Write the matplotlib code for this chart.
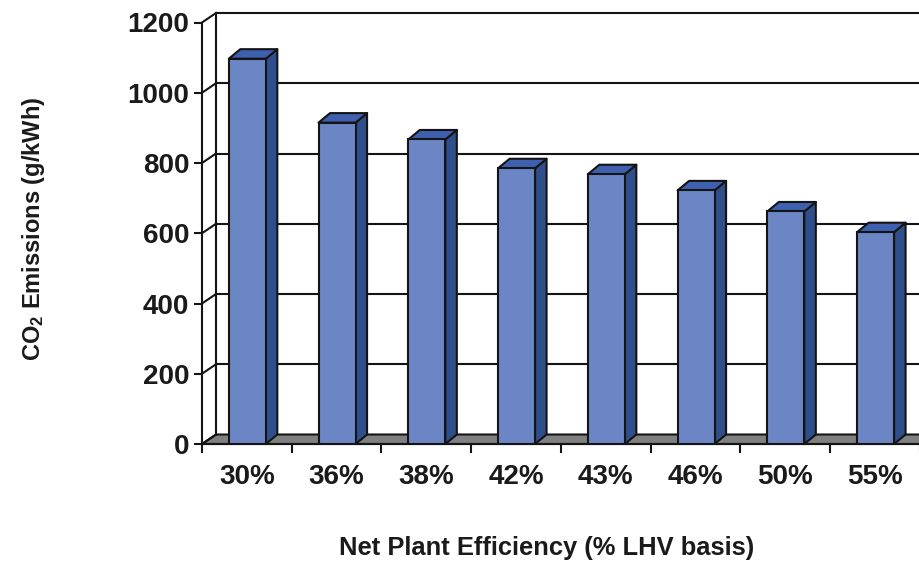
import matplotlib
matplotlib.use("Agg")
import matplotlib.pyplot as plt
from matplotlib.patches import Polygon
from matplotlib.ticker import FixedLocator, NullFormatter, FixedFormatter

categories = ["30%", "36%", "38%", "42%", "43%", "46%", "50%", "55%"]
emissions = [1097, 915, 867, 785, 768, 722, 662, 603]
y_ticks = [0, 200, 400, 600, 800, 1000, 1200]

plt.rcParams.update({
    "font.family": "Liberation Sans",
    "font.weight": "bold",
    "mathtext.fontset": "custom",
    "mathtext.bf": "Liberation Sans:bold",
    "mathtext.rm": "Liberation Sans:bold",
    "mathtext.default": "bf",
})

W, H = 920, 562
INK = "#141414"
LW = 1.5
fig = plt.figure(figsize=(W / 100, H / 100), dpi=100, facecolor="white")
ax = fig.add_axes([202 / W, (H - 444) / H, 718 / W, 421.5 / H])
n = len(categories)
ax.set_xlim(0, n)
ax.set_ylim(0, 1200)
for s in ("top", "right", "bottom"):
    ax.spines[s].set_visible(False)
ax.spines["left"].set_linewidth(LW)
ax.spines["left"].set_color(INK)
ax.patch.set_alpha(0)

# depth of the pseudo-3D box, in data units
wall_dx = 14 / (718 / n)
bar_dx = 11.5 / (718 / n)
depth_y = 9.5 / (421.5 / 1200)
bar_w = 37 / (718 / n)

# floor
ax.add_patch(Polygon([(0, 0), (wall_dx, depth_y), (n + 1, depth_y), (n + 1, 0)],
                     closed=True, fc="#808080", ec=INK, lw=LW, zorder=1, clip_on=False))
# back wall + grid
for v in y_ticks:
    ax.plot([0, wall_dx], [v, v + depth_y], color=INK, lw=LW, zorder=1.5, clip_on=False)
    if v > 0:
        ax.plot([wall_dx, n + 1], [v + depth_y] * 2, color=INK, lw=LW, zorder=1.5, clip_on=False)
ax.plot([wall_dx, wall_dx], [depth_y, 1200 + depth_y], color=INK, lw=LW, zorder=1.5, clip_on=False)
ax.plot([0, n + 1], [0, 0], color=INK, lw=LW, zorder=1.6, clip_on=False)

# bars
for i, v in enumerate(emissions):
    x0 = i + 0.5 - bar_w / 2 + 0.005
    x1 = x0 + bar_w
    ax.add_patch(Polygon([(x1, 0), (x1 + bar_dx, depth_y), (x1 + bar_dx, v + depth_y), (x1, v)],
                         closed=True, fc="#2F4F8C", ec=INK, lw=LW, joinstyle="round", zorder=3, clip_on=False))
    ax.add_patch(Polygon([(x0, v), (x0 + bar_dx, v + depth_y), (x1 + bar_dx, v + depth_y), (x1, v)],
                         closed=True, fc="#3F60AE", ec=INK, lw=LW, joinstyle="round", zorder=3, clip_on=False))
    ax.bar(x0, v, width=bar_w, align="edge", color="#6C85C5", edgecolor=INK, linewidth=LW, zorder=4)

ax.xaxis.set_major_locator(FixedLocator(list(range(n + 1))))
ax.xaxis.set_major_formatter(NullFormatter())
ax.xaxis.set_minor_locator(FixedLocator([i + 0.5 for i in range(n)]))
ax.xaxis.set_minor_formatter(FixedFormatter(categories))
ax.tick_params(axis="x", which="major", length=6.5, width=LW, color=INK)
ax.tick_params(axis="x", which="minor", length=0, pad=14.5, labelsize=20, labelcolor="#1a1a1a")
ax.set_yticks(y_ticks)
ax.tick_params(axis="y", length=6, width=LW, color=INK, pad=3, labelsize=20, labelcolor="#1a1a1a")

fig.text(547 / W, 1 - 548 / H, "Net Plant Efficiency (% LHV basis)", ha="center", va="center",
         fontsize=18.4, color="#1a1a1a")
fig.text(34 / W, 1 - 229 / H, "CO$_2$ Emissions (g/kWh)", ha="center", va="center",
         rotation=90, fontsize=17, color="#1a1a1a")

fig.savefig("out.png", dpi=100, facecolor="white")
